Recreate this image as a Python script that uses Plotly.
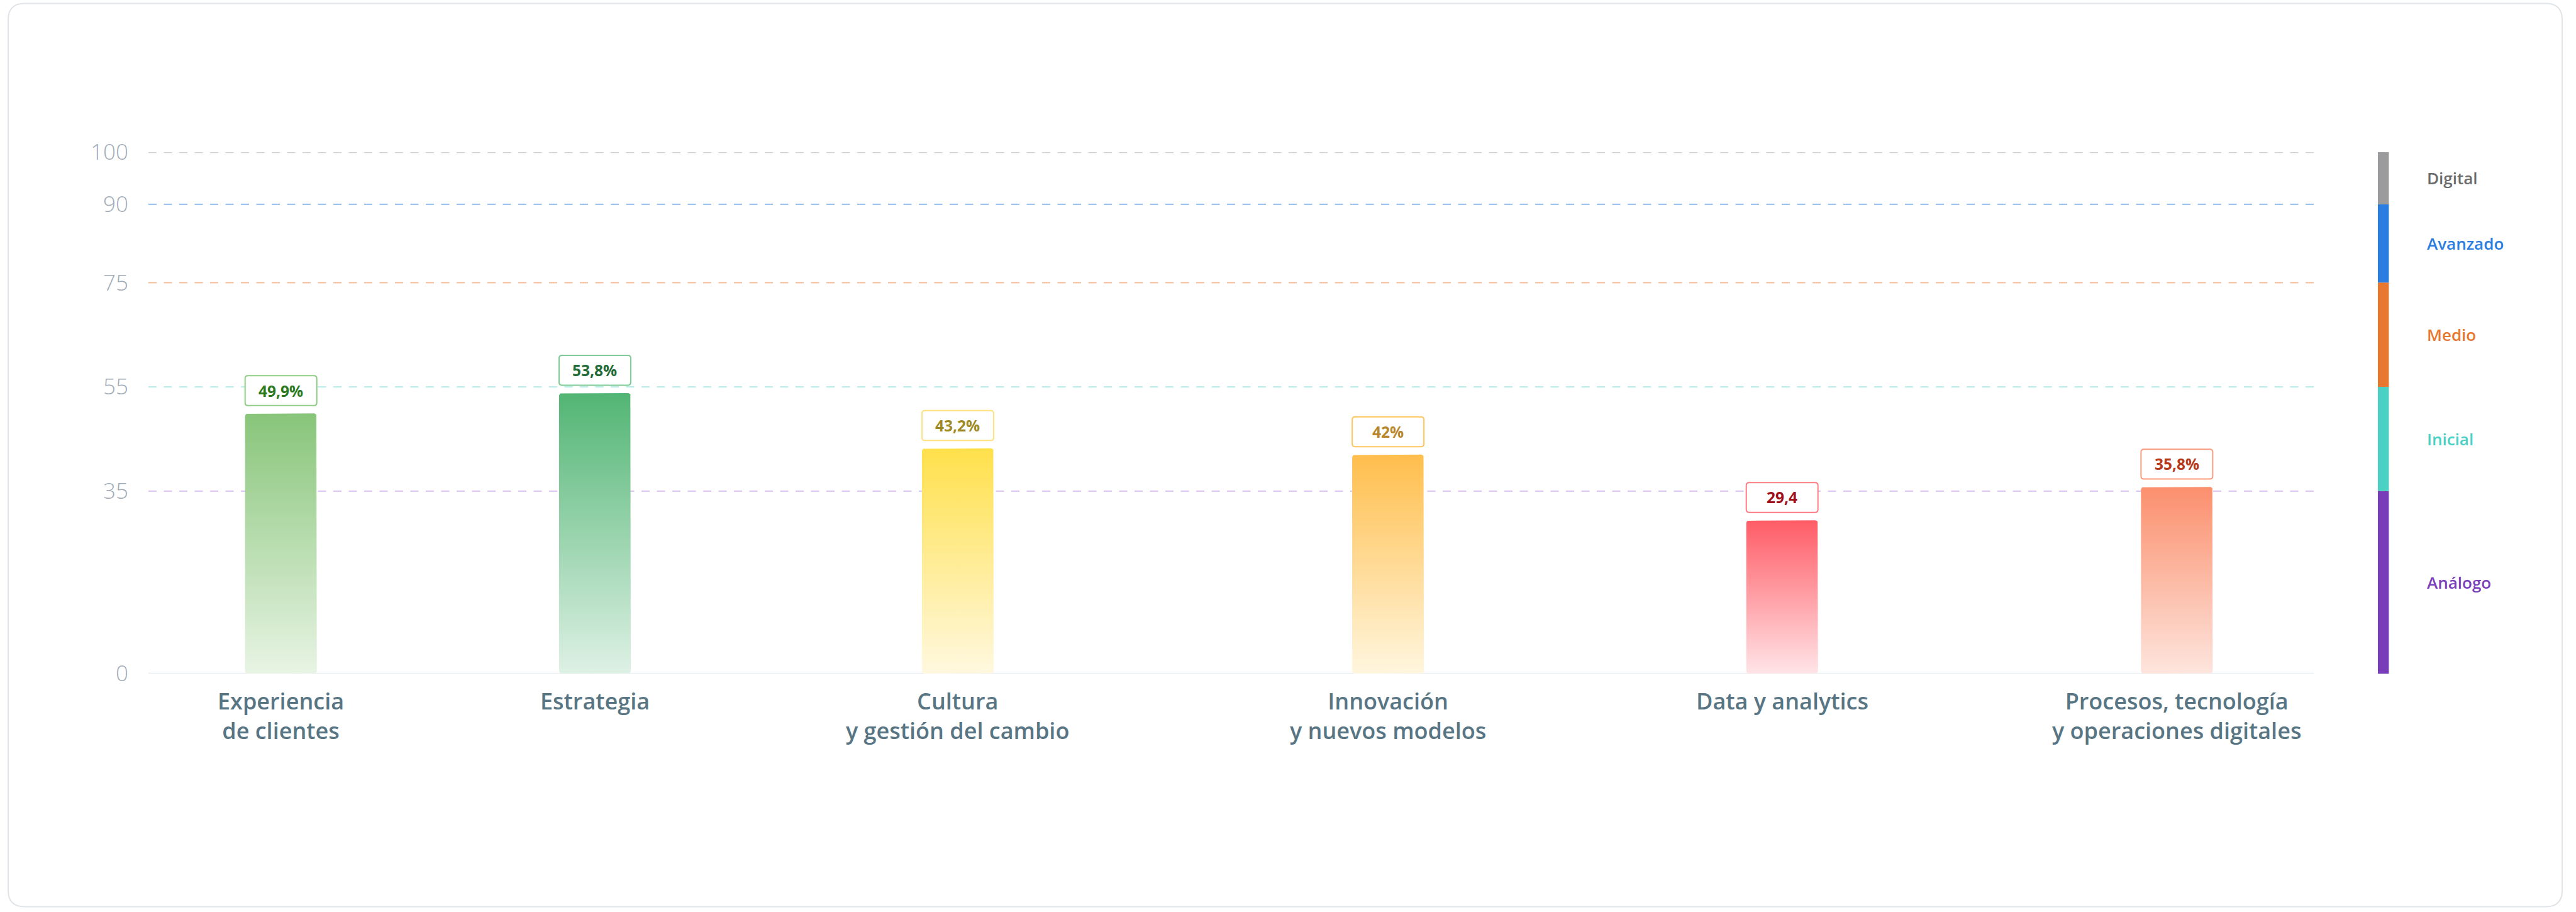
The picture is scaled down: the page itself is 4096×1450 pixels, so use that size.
import math
import plotly.graph_objects as go

# ---- data -------------------------------------------------------------
categories = [
    "Experiencia<br>de clientes",
    "Estrategia",
    "Cultura<br>y gestión del cambio",
    "Innovación<br>y nuevos modelos",
    "Data y analytics",
    "Procesos, tecnología<br>y operaciones digitales",
]
scores = [49.9, 53.8, 43.2, 42, 29.4, 35.8]
score_suffix = ["%", "%", "%", "%", "", "%"]

level_names = ["Análogo", "Inicial", "Medio", "Avanzado", "Digital"]
level_floor = [0, 35, 55, 75, 90]
level_ceiling = [35, 55, 75, 90, 100]
y_ticks = [0, 35, 55, 75, 90, 100]

# ---- layout / style ---------------------------------------------------
W, H = 4096, 1450
M_L, M_R, M_T, M_B = 236, 96, 242, 379
PLOT_W = W - M_L - M_R
PLOT_H = H - M_T - M_B
MAIN_DOMAIN = [0.0, 0.9147]
LEGEND_DOMAIN = [0.9418, 0.9465]
MAIN_W_PX = PLOT_W * (MAIN_DOMAIN[1] - MAIN_DOMAIN[0])

# column slot centres along the category axis (fraction of its width)
column_centers = [0.0612, 0.2062, 0.3738, 0.5725, 0.7545, 0.9368]
BAR_W_PX = 114
CORNER_PX = 4.6

bar_top = ["#88c57a", "#52b574", "#ffe04b", "#ffbe4c", "#ff5c66", "#fb8f6d"]
bar_bottom = ["#e8f4e4", "#def1e5", "#fff8df", "#fff6de", "#ffe4e7", "#fde5dd"]
tag_text = ["#2b7a1e", "#1f6b36", "#9f8a22", "#b8862b", "#9e1018", "#b7391a"]
tag_border = ["#8fcd85", "#7fca96", "#ffe27d", "#ffc65e", "#ff7b82", "#fb9c7f"]

level_colors = ["#793dba", "#4bd0c4", "#e8782f", "#2a7de1", "#9b9a9c"]
level_text = ["#7b3fbc", "#4bd0c4", "#e8782f", "#2a7de1", "#6b6b6b"]
grid_colors = {35: "#dcc7f1", 55: "#b9ede9", 75: "#f7c6a6", 90: "#9fc4ef", 100: "#d0d0d0"}

FONT = "Open Sans"
LABEL_COLOR = "#587584"
TICK_COLOR = "#a2acb6"


def bar_outline(cx, value):
    """Rounded-corner rectangle from 0 to value, in data units."""
    hw = BAR_W_PX / 2 / MAIN_W_PX
    rx = CORNER_PX / MAIN_W_PX
    ry = CORNER_PX * 100 / PLOT_H
    xs, ys = [], []

    def arc(cxa, cya, a0, a1, n=6):
        for k in range(n + 1):
            a = math.radians(a0 + (a1 - a0) * k / n)
            xs.append(cxa + rx * math.cos(a))
            ys.append(cya + ry * math.sin(a))

    left, right = cx - hw, cx + hw
    arc(left + rx, ry, 180, 270)          # bottom-left
    arc(right - rx, ry, 270, 360)         # bottom-right
    arc(right - rx, value - ry, 0, 90)    # top-right
    arc(left + rx, value - ry, 90, 180)   # top-left
    xs.append(xs[0])
    ys.append(ys[0])
    return xs, ys


def rounded_path(x0, y0, x1, y1, r):
    return (
        f"M{x0 + r},{y0} L{x1 - r},{y0} Q{x1},{y0} {x1},{y0 + r} "
        f"L{x1},{y1 - r} Q{x1},{y1} {x1 - r},{y1} L{x0 + r},{y1} "
        f"Q{x0},{y1} {x0},{y1 - r} L{x0},{y0 + r} Q{x0},{y0} {x0 + r},{y0} Z"
    )


def px_to_paper_x(px):
    return (px - M_L) / PLOT_W


def px_to_paper_y(py):
    return (H - M_B - py) / PLOT_H


fig = go.Figure()

# gradient bars
for i, v in enumerate(scores):
    xs, ys = bar_outline(column_centers[i], v)
    fig.add_trace(go.Scatter(
        x=xs, y=ys, mode="lines", fill="toself",
        line=dict(width=0, color=bar_top[i]),
        fillgradient=dict(type="vertical",
                          colorscale=[[0, bar_bottom[i]], [1, bar_top[i]]]),
        hoverinfo="skip", showlegend=False,
    ))

# maturity level scale on the right
fig.add_trace(go.Bar(
    x=[0.5] * len(level_names),
    y=[c - f for f, c in zip(level_floor, level_ceiling)],
    base=level_floor,
    width=1,
    marker=dict(color=level_colors, line=dict(width=0)),
    xaxis="x2", yaxis="y",
    hoverinfo="skip", showlegend=False,
))

shapes = []
# card frame
cx0, cx1 = px_to_paper_x(13), px_to_paper_x(4074)
cy0, cy1 = px_to_paper_y(1441.5), px_to_paper_y(5.6)
rxp, ryp = 26 / PLOT_W, 26 / PLOT_H
shapes.append(dict(
    type="path", xref="paper", yref="paper", layer="below",
    path=(f"M{cx0 + rxp},{cy0} L{cx1 - rxp},{cy0} Q{cx1},{cy0} {cx1},{cy0 + ryp} "
          f"L{cx1},{cy1 - ryp} Q{cx1},{cy1} {cx1 - rxp},{cy1} L{cx0 + rxp},{cy1} "
          f"Q{cx0},{cy1} {cx0},{cy1 - ryp} L{cx0},{cy0 + ryp} Q{cx0},{cy0} {cx0 + rxp},{cy0} Z"),
    line=dict(color="#e1e4e8", width=2), fillcolor="#ffffff",
))

# dashed level lines and solid baseline
for t in y_ticks:
    if t == 0:
        shapes.append(dict(type="line", xref="x", yref="y", x0=0, x1=1, y0=0, y1=0,
                           line=dict(color="#e8edf2", width=2.5), layer="below"))
    else:
        shapes.append(dict(type="line", xref="x", yref="y", x0=0, x1=1, y0=t, y1=t,
                           line=dict(color=grid_colors[t], width=2.3, dash="13px,11.5px"),
                           layer="below"))

annotations = []
for i, v in enumerate(scores):
    c = column_centers[i]
    # value tag box
    shapes.append(dict(
        type="path", xref="x", yref="y", xsizemode="pixel", ysizemode="pixel",
        xanchor=c, yanchor=v, layer="above",
        path=rounded_path(-BAR_W_PX / 2, 12.6, BAR_W_PX / 2, 60, 4.6),
        line=dict(color=tag_border[i], width=2), fillcolor="#ffffff",
    ))
    label = f"{v:g}".replace(".", ",") + score_suffix[i]
    annotations.append(dict(
        x=c, y=v, xref="x", yref="y", text=f"<b>{label}</b>", showarrow=False,
        yshift=36.3, yanchor="middle", xanchor="center",
        font=dict(family=FONT, size=24.5, color=tag_text[i]),
    ))
    # category label
    annotations.append(dict(
        x=c, y=0, xref="x", yref="y", text=categories[i], showarrow=False,
        xanchor="center", yanchor="top", yshift=-17, align="center",
        font=dict(family=FONT, size=36, color=LABEL_COLOR, weight=600),
    ))

for name, f, c, col in zip(level_names, level_floor, level_ceiling, level_text):
    annotations.append(dict(
        x=1, y=(f + c) / 2, xref="x2", yref="y", text=name, showarrow=False,
        xanchor="left", yanchor="middle", xshift=58,
        font=dict(family=FONT, size=26, color=col, weight=600),
    ))

fig.update_layout(
    width=W, height=H,
    margin=dict(l=M_L, r=M_R, t=M_T, b=M_B, pad=0),
    paper_bgcolor="#ffffff", plot_bgcolor="rgba(0,0,0,0)",
    showlegend=False,
    xaxis=dict(domain=MAIN_DOMAIN, range=[0, 1], visible=False, fixedrange=True),
    xaxis2=dict(domain=LEGEND_DOMAIN, range=[0, 1], visible=False, anchor="y", fixedrange=True),
    yaxis=dict(
        range=[0, 100], tickvals=y_ticks, ticktext=[str(t) for t in y_ticks],
        showgrid=False, zeroline=False, showline=False, ticks="",
        ticklabelstandoff=31,
        tickfont=dict(family=FONT, size=35, color=TICK_COLOR, weight=300),
        fixedrange=True,
    ),
    shapes=shapes,
    annotations=annotations,
)

fig.write_html("out.html")
